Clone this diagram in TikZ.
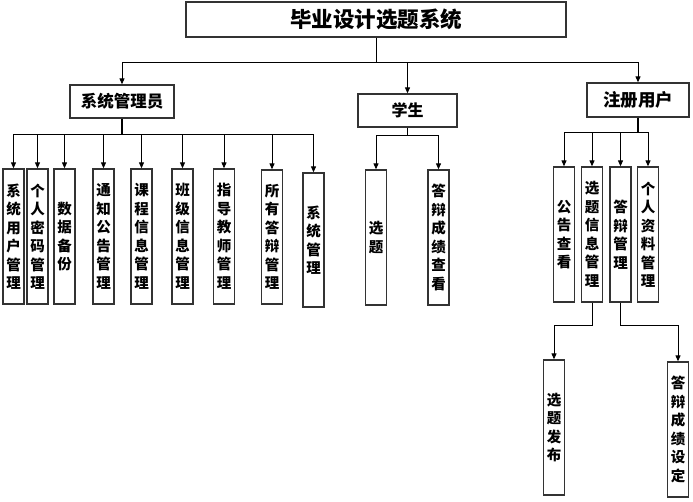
\documentclass[tikz,border=0pt]{standalone}
\usepackage{fontspec}
\setmainfont{Noto Sans CJK SC}
\usetikzlibrary{arrows.meta}
\begin{document}
\begin{tikzpicture}[x=1pt,y=-1pt,
  hbox/.style={draw=black!80,line width=1.3pt,inner sep=0pt,fill=white},
  vbox/.style={draw=black!80,line width=1.3pt,inner sep=0pt,minimum width=21pt,align=center,
     font=\fontsize{14.5}{18.5}\selectfont\bfseries},
  arr/.style={draw=black,line width=1pt,-{Triangle[length=6pt,width=5pt]}},
  ln/.style={draw=black,line width=1pt}]
\useasboundingbox (0,0) rectangle (693,501);
% top level
\node[hbox,minimum width=380pt,minimum height=35pt,font=\fontsize{21.5}{25}\selectfont\bfseries] (title) at (376,19.5) {毕业设计选题系统};
\node[hbox,minimum width=104pt,minimum height=33pt,font=\fontsize{16.5}{20}\selectfont\bfseries] (admin) at (122,101.5) {系统管理员};
\node[hbox,minimum width=99pt,minimum height=33pt,font=\fontsize{16}{20}\selectfont\bfseries] (stu) at (407.5,110.5) {学生};
\node[hbox,minimum width=102pt,minimum height=34pt,font=\fontsize{17.5}{20}\selectfont\bfseries] (user) at (638,100) {注册用户};
\coordinate (tb) at (376,62);
\draw[arr] (title.south) -- (tb) -| (admin.north);
\draw[arr] (tb) -| (stu.north);
\draw[arr] (tb) -| (user.north);
% admin children
\node[vbox,minimum height=135pt] (a1) at (13.5,236.5) {系\\统\\用\\户\\管\\理};
\node[vbox,minimum height=135pt] (a2) at (37.5,236.5) {个\\人\\密\\码\\管\\理};
\node[vbox,minimum height=135pt] (a3) at (64.5,236.5) {数\\据\\备\\份};
\node[vbox,minimum height=135pt] (a4) at (103.5,236.5) {通\\知\\公\\告\\管\\理};
\node[vbox,minimum height=135pt] (a5) at (141.5,236.5) {课\\程\\信\\息\\管\\理};
\node[vbox,minimum height=135pt] (a6) at (182.5,236.5) {班\\级\\信\\息\\管\\理};
\node[vbox,minimum height=135pt] (a7) at (224,236.5) {指\\导\\教\\师\\管\\理};
\node[vbox,minimum height=134pt] (a8) at (272,237) {所\\有\\答\\辩\\管\\理};
\node[vbox,minimum height=134pt] (a9) at (313.5,240) {系\\统\\管\\理};
\coordinate (ab) at (122,134);
\draw[ln,line width=1.4pt] (admin.south) -- (ab);
\foreach \n in {a1,a2,a3,a4,a5,a6,a7,a8,a9}{
  \draw[arr] (ab) -| (\n.north);
}
% student children
\node[vbox,minimum height=135pt] (s1) at (376,237.5) {选\\题};
\node[vbox,minimum height=135pt] (s2) at (438.5,237.5) {答\\辩\\成\\绩\\查\\看};
\coordinate (sb) at (407.5,135);
\draw[ln] (stu.south) -- (sb);
\draw[arr] (sb) -| (s1.north);
\draw[arr] (sb) -| (s2.north);
% user children
\node[vbox,minimum height=135pt] (u1) at (564,234.5) {公\\告\\查\\看};
\node[vbox,minimum height=135pt] (u2) at (592,234.5) {选\\题\\信\\息\\管\\理};
\node[vbox,minimum height=135pt] (u3) at (620.5,234.5) {答\\辩\\管\\理};
\node[vbox,minimum height=135pt] (u4) at (648,234.5) {个\\人\\资\\料\\管\\理};
\coordinate (ub) at (638,132);
\draw[ln,line width=1.4pt] (user.south) -- (ub);
\foreach \n in {u1,u2,u3,u4}{
  \draw[arr] (ub) -| (\n.north);
}
% sub children
\node[vbox,minimum height=135pt] (u5) at (554,427.5) {选\\题\\发\\布};
\node[vbox,minimum height=135pt] (u6) at (678,429.5) {答\\辩\\成\\绩\\设\\定};
\draw[arr] (u2.south) -- ++(0,23) -| (u5.north);
\draw[arr] (u3.south) -- ++(0,23) -| (u6.north);
\end{tikzpicture}
\end{document}
